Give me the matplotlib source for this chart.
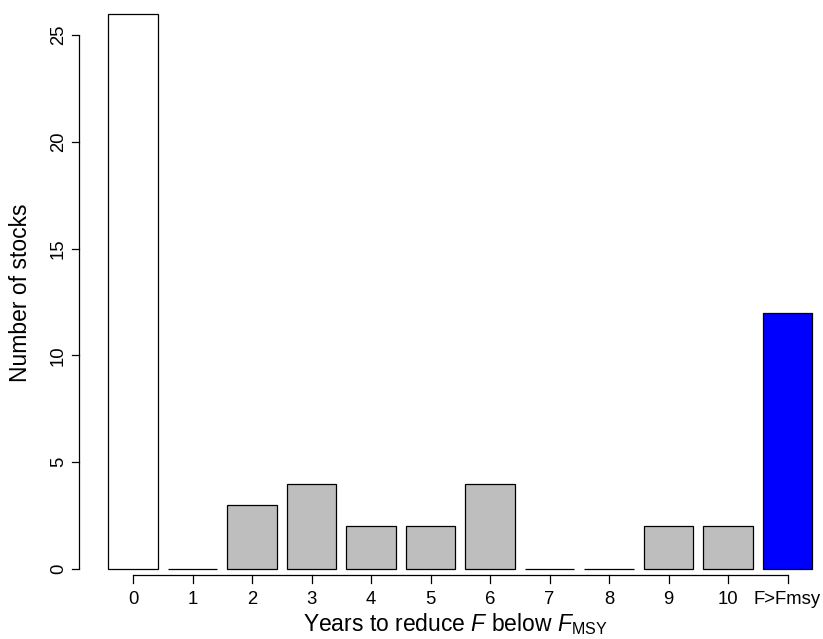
import matplotlib.pyplot as plt
import numpy as np

plt.rcParams['font.family'] = 'Liberation Sans'
plt.rcParams['mathtext.fontset'] = 'custom'
plt.rcParams['mathtext.rm'] = 'Liberation Sans'
plt.rcParams['mathtext.it'] = 'Liberation Sans:italic'

# stocks by number of years needed to bring F below Fmsy
years = ['0', '1', '2', '3', '4', '5', '6', '7', '8', '9', '10', 'F>Fmsy']
n_stocks = [26, 0, 3, 4, 2, 2, 4, 0, 0, 2, 2, 12]
colours = ['white'] + ['#bebebe'] * 10 + ['blue']
y_ticks = [0, 5, 10, 15, 20, 25]

W, H = 823, 639
fig = plt.figure(figsize=(W / 100, H / 100), dpi=100)

# pixel geometry of the plot region
px_per_bar = 59.5
x0_px = 133.0          # centre of first bar
y0_px = 569.0          # y = 0
px_per_unit = 21.36
left_px, right_px = 79, 823
bottom_px, top_px = 575, 0

ax = fig.add_axes([left_px / W, 1 - bottom_px / H,
                   (right_px - left_px) / W, (bottom_px - top_px) / H])
ax.set_xlim((left_px - x0_px) / px_per_bar, (right_px - x0_px) / px_per_bar)
ax.set_ylim(-(bottom_px - y0_px) / px_per_unit, (y0_px - top_px) / px_per_unit)

x = np.arange(len(years))
ax.bar(x, n_stocks, width=1 / 1.2, color=colours, edgecolor='black',
       linewidth=0.9, clip_on=False)

for s in ax.spines.values():
    s.set_visible(False)
ax.tick_params(length=0)
ax.set_xticks([])
ax.set_yticks([])

# R-style axes: lines only between first and last tick
ax.plot([x[0], x[-1]], [ax.get_ylim()[0]] * 2, color='black', lw=0.9,
        clip_on=False, solid_capstyle='butt')
ax.plot([ax.get_xlim()[0]] * 2, [y_ticks[0], y_ticks[-1]], color='black',
        lw=0.9, clip_on=False, solid_capstyle='butt')
tick_len = 7.5
for xi, lab in zip(x, years):
    xp = x0_px + xi * px_per_bar
    fig.add_artist(plt.Line2D([xp / W] * 2,
                              [1 - bottom_px / H, 1 - (bottom_px + tick_len) / H],
                              color='black', lw=0.9))
    fig.text(xp / W, 1 - 600 / H, lab, ha='center', va='center', fontsize=13.3)
for yt in y_ticks:
    yp = y0_px - yt * px_per_unit
    fig.add_artist(plt.Line2D([left_px / W, (left_px - tick_len) / W],
                              [1 - yp / H] * 2, color='black', lw=0.9))
    fig.text(58.5 / W, 1 - yp / H, str(yt), ha='center', va='center',
             rotation=90, fontsize=13.3)

fig.text(455 / W, 1 - 624 / H, r'Years to reduce $F$ below $F_{\mathrm{MSY}}$',
         ha='center', va='center', fontsize=16.5)
fig.text(21 / W, 1 - 293 / H, 'Number of stocks', ha='center', va='center',
         rotation=90, fontsize=16.5)

fig.savefig('out.png', dpi=100)
